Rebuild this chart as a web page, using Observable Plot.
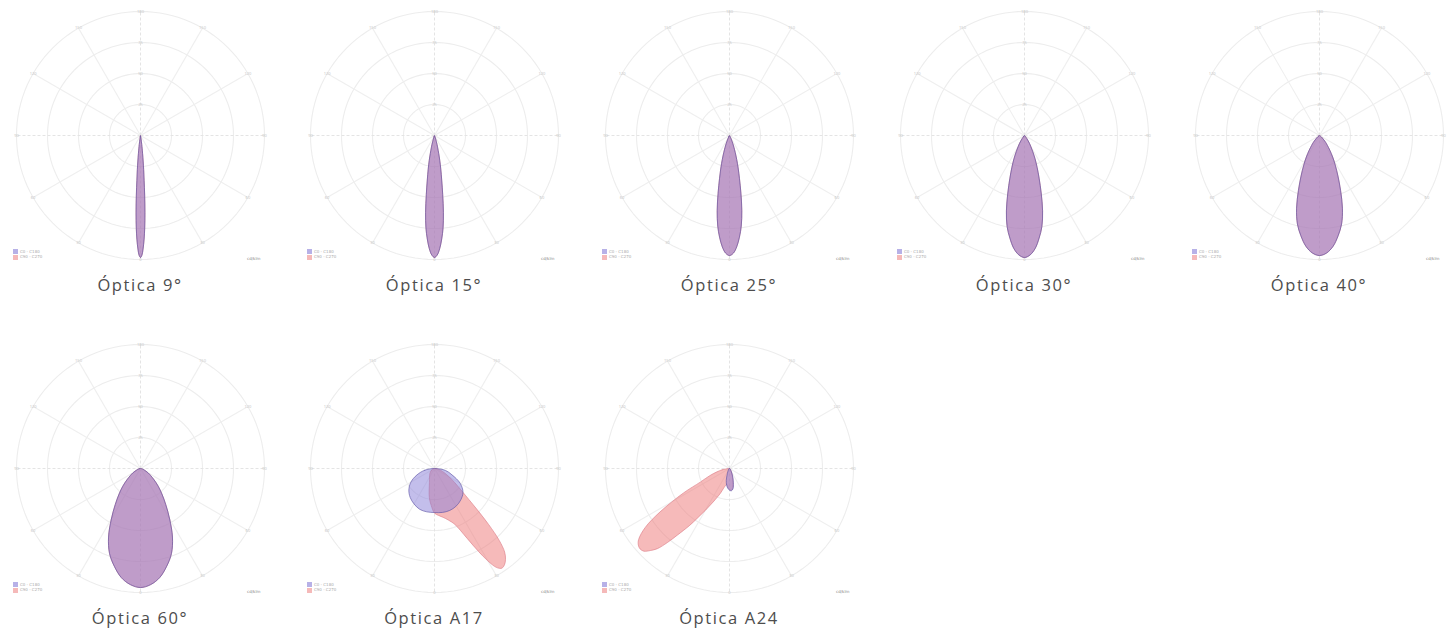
<!DOCTYPE html>
<html>
<head>
<meta charset="utf-8">
<script src="https://cdn.jsdelivr.net/npm/d3@7"></script>
<script src="https://cdn.jsdelivr.net/npm/@observablehq/plot@0.6"></script>
<style>
html, body { margin: 0; padding: 0; background: #fff; }
#page { position: relative; width: 1456px; height: 635px; overflow: hidden; background: #fff; }
.chart { position: absolute; }
.caption { position: absolute; width: 200px; text-align: center; font-family: "Open Sans", sans-serif; font-size: 16.5px; line-height: 20px; color: #4d4d4d; letter-spacing: 1.6px; white-space: nowrap; }
.legend { position: absolute; font-family: "DejaVu Sans", sans-serif; font-size: 4px; line-height: 5px; color: #aaa; white-space: nowrap; }
.legend span.sw { display: inline-block; width: 5px; height: 5px; vertical-align: middle; margin-right: 2px; }
.unit { position: absolute; font-family: "DejaVu Sans", sans-serif; font-size: 4px; color: #888; white-space: nowrap; }
</style>
</head>
<body>
<div id="page"></div>
<script>
// ---- chart titles ----
const titles = ["Óptica 9°", "Óptica 15°", "Óptica 25°", "Óptica 30°", "Óptica 40°", "Óptica 60°", "Óptica A17", "Óptica A24"];
const planeNames = ["C0 - C180", "C90 - C270"];
const unitLabel = "cd/klm";

// ---- polar grid ----
const ringValues = [25, 50, 75, 100];
const ringLabels = ["25", "50", "75", "100"];
const spokeAngles = [0, 30, 60, 90, 120, 150, 180, 210, 240, 270, 300, 330];
const spokeLabels = ["0", "30", "60", "90", "120", "150", "180", "150", "120", "90", "60", "30"];

// ---- symmetric optics: gamma (deg) and relative intensity (outer ring = 100) ----
const gamma9 = [0, 0.7, 1.3, 2, 2.6, 3.3, 4, 4.6, 5.3, 5.9, 6.6, 7.3, 7.9, 9.2, 10.6, 12];
const intensity9 = [98.4, 96.4, 91.5, 83.6, 74.8, 62.5, 48.2, 36.4, 27.6, 20.7, 14.8, 10.3, 7.4, 3, 1, 0];
const gamma15 = [0, 1.3, 2.6, 4, 5.3, 6.6, 7.9, 9.2, 10.6, 11.9, 13.2, 14.5, 15.8, 18.5, 21.1, 23.8];
const intensity15 = [98.4, 96.4, 91.5, 83.6, 74.8, 62.5, 48.2, 36.4, 27.6, 20.7, 14.8, 10.3, 7.4, 3, 1, 0];
const gamma25 = [0, 1.9, 3.7, 5.6, 7.4, 9.3, 11.2, 13, 14.9, 16.7, 18.6, 20.5, 22.3, 26, 29.8, 33.5];
const intensity25 = [96.8, 94.9, 90, 82.3, 73.6, 61.5, 47.4, 35.8, 27.1, 20.3, 14.5, 10.2, 7.3, 2.9, 1, 0];
const gamma30 = [0, 2.7, 5.4, 8.1, 10.8, 13.5, 16.2, 18.9, 21.6, 24.3, 27, 29.7, 32.4, 37.8, 43.2, 48.6];
const intensity30 = [98.4, 96.4, 91.5, 83.6, 74.8, 62.5, 48.2, 36.4, 27.6, 20.7, 14.8, 10.3, 7.4, 3, 1, 0];
const gamma40 = [0, 3.5, 7, 10.5, 14, 17.5, 21, 24.5, 28, 31.5, 35, 38.5, 42, 49, 56, 63];
const intensity40 = [96.8, 94.9, 90, 82.3, 73.6, 61.5, 47.4, 35.8, 27.1, 20.3, 14.5, 10.2, 7.3, 2.9, 1, 0];
const gamma60 = [0, 5, 10, 15, 20, 25, 30, 35, 40, 45, 50, 55, 60, 70, 80, 90];
const intensity60 = [96, 94, 89.3, 81.6, 73, 61, 47, 35.5, 26.9, 20.2, 14.4, 10.1, 7.2, 2.9, 1, 0];

// ---- asymmetric optics: gamma from -90 (left) to 90 (right) ----
const gammaA17C0 = [-90, -80, -70, -60, -50, -40, -30, -20, -10, 0, 10, 20, 30, 40, 50, 60, 70, 80, 90];
const intensityA17C0 = [0, 8, 15, 22, 27, 30.5, 33, 35, 35.5, 35.5, 36, 36, 35, 33, 30, 24, 15, 9, 0];
const gammaA17C90 = [-90, -60, -40, -30, -20, -10, -5, 0, 5, 10, 15, 20, 25, 28, 30, 32, 34, 36, 38, 40, 42, 44, 46, 48, 50, 55, 60, 70, 80, 90];
const intensityA17C90 = [0, 3, 6, 8, 12, 24, 30, 36, 38, 40, 43, 48, 62, 76, 86, 94, 97, 96, 93, 88, 78, 63, 48, 37, 30, 20, 14, 7, 3, 0];
const gammaA24C0 = [-90, -60, -45, -30, -20, -15, -10, -5, 0, 5, 10, 15, 20, 25, 30, 45, 60, 90];
const intensityA24C0 = [0, 0.5, 1, 2.5, 6, 10, 13.5, 16, 17.5, 18, 16.5, 12, 8, 5, 3, 1, 0.5, 0];
const gammaA24C90 = [-90, -80, -75, -70, -65, -62, -58, -55, -52, -50, -48, -46, -44, -42, -40, -38, -35, -33, -30, -26, -20, -17, -10, -5, 0, 5, 10, 15, 20, 25, 30, 45, 60, 90];
const intensityA24C90 = [0, 6, 10.5, 17, 26, 42, 66, 83, 93, 96, 97, 96, 92, 87, 78, 68, 56, 48, 39, 30, 21, 17, 13, 15, 17, 17.5, 15.5, 11, 7, 4.5, 3, 1, 0.5, 0];

// ---- layout (not data) ----
const colCenters = [140, 434, 729, 1024, 1319];
const rowCenters = [135, 468];
const half = 135;              // svg half-size in px
const pxPerUnit = 1.24;        // outer ring (100) = 124 px
const D = half / pxPerUnit;

const C0_FILL = "rgb(135,125,215)", C0_STROKE = "rgb(95,85,165)";
const C90_FILL = "rgb(238,118,118)", C90_STROKE = "rgb(220,125,135)";

const rad = (g) => g * Math.PI / 180;

function symmetric(gammas, values) {
  const pts = [];
  for (let i = gammas.length - 1; i > 0; i--) pts.push({g: -gammas[i], v: values[i]});
  for (let i = 0; i < gammas.length; i++) pts.push({g: gammas[i], v: values[i]});
  if (pts[0].v === 0 && pts[pts.length - 1].v === 0) pts.pop();
  return pts;
}
function asymmetric(gammas, values) {
  const pts = gammas.map((g, i) => ({g, v: values[i]}));
  if (pts[0].v === 0 && pts[pts.length - 1].v === 0) pts.pop();
  return pts;
}

const optics = [
  {c0: symmetric(gamma9, intensity9), c90: symmetric(gamma9, intensity9)},
  {c0: symmetric(gamma15, intensity15), c90: symmetric(gamma15, intensity15)},
  {c0: symmetric(gamma25, intensity25), c90: symmetric(gamma25, intensity25)},
  {c0: symmetric(gamma30, intensity30), c90: symmetric(gamma30, intensity30)},
  {c0: symmetric(gamma40, intensity40), c90: symmetric(gamma40, intensity40)},
  {c0: symmetric(gamma60, intensity60), c90: symmetric(gamma60, intensity60)},
  {c0: asymmetric(gammaA17C0, intensityA17C0), c90: asymmetric(gammaA17C90, intensityA17C90)},
  {c0: asymmetric(gammaA24C0, intensityA24C0), c90: asymmetric(gammaA24C90, intensityA24C90)}
];

const ringPts = [];
for (const r of ringValues) for (let a = 0; a < 360; a += 3) ringPts.push({r, a});

const px = (d) => d.v * Math.sin(rad(d.g));
const py = (d) => -d.v * Math.cos(rad(d.g));

function makeChart(o) {
  const spokes = spokeAngles.map((a, i) => ({a, label: spokeLabels[i]}));
  return Plot.plot({
    width: 2 * half, height: 2 * half, margin: 0,
    x: {domain: [-D, D], axis: null},
    y: {domain: [-D, D], axis: null},
    style: {background: "transparent", overflow: "visible"},
    marks: [
      Plot.line(ringPts, {x: d => d.r * Math.sin(rad(d.a)), y: d => d.r * Math.cos(rad(d.a)), z: "r", curve: "linear-closed", stroke: "#ededed", strokeWidth: 1.1}),
      Plot.link(spokes.filter(d => d.a % 90 !== 0), {x1: () => 0, y1: () => 0, x2: d => 100 * Math.sin(rad(d.a)), y2: d => -100 * Math.cos(rad(d.a)), stroke: "#efefef", strokeWidth: 1.1}),
      Plot.link(spokes.filter(d => d.a % 90 === 0), {x1: () => 0, y1: () => 0, x2: d => 100 * Math.sin(rad(d.a)), y2: d => -100 * Math.cos(rad(d.a)), stroke: "#e4e4e4", strokeWidth: 1, strokeDasharray: "3,2"}),
      Plot.text(spokes, {x: d => 100 * Math.sin(rad(d.a)), y: d => -100 * Math.cos(rad(d.a)), text: "label", fontSize: 4, fill: "#c8c8c8"}),
      Plot.text(ringValues.slice(0, 3), {x: () => 0, y: d => d, text: (d, i) => ringLabels[i], fontSize: 4, fill: "#c8c8c8"}),
      Plot.line(o.c90, {x: px, y: py, curve: "catmull-rom-closed", fill: C90_FILL, fillOpacity: 0.5, stroke: C90_STROKE, strokeWidth: 0.8, strokeOpacity: 0.8}),
      Plot.line(o.c0, {x: px, y: py, curve: "catmull-rom-closed", fill: C0_FILL, fillOpacity: 0.5, stroke: C0_STROKE, strokeWidth: 0.8, strokeOpacity: 0.8})
    ]
  });
}

const page = document.getElementById("page");
optics.forEach((o, i) => {
  const cx = colCenters[i % 5], cy = rowCenters[Math.floor(i / 5)];
  const svg = makeChart(o);
  svg.classList.add("chart");
  svg.style.left = (cx - half) + "px";
  svg.style.top = (cy - half) + "px";
  page.appendChild(svg);

  const leg = document.createElement("div");
  leg.className = "legend";
  leg.style.left = (cx - 127) + "px";
  leg.style.top = (cy + 114) + "px";
  leg.innerHTML = `<div><span class="sw" style="background:rgba(135,125,215,0.6)"></span>${planeNames[0]}</div><div><span class="sw" style="background:rgba(235,115,115,0.5)"></span>${planeNames[1]}</div>`;
  page.appendChild(leg);

  const u = document.createElement("div");
  u.className = "unit";
  u.style.left = (cx + 107) + "px";
  u.style.top = (cy + 121) + "px";
  u.textContent = unitLabel;
  page.appendChild(u);

  const cap = document.createElement("div");
  cap.className = "caption";
  cap.style.left = (cx - 100) + "px";
  cap.style.top = (cy + 140) + "px";
  cap.textContent = titles[i];
  page.appendChild(cap);
});
</script>
</body>
</html>
